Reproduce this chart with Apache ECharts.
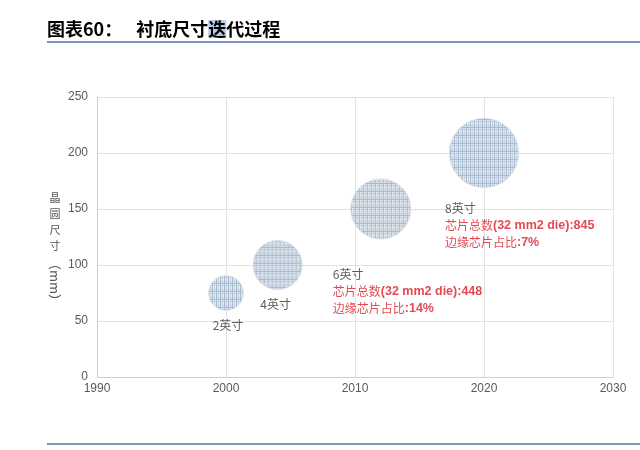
<!DOCTYPE html>
<html>
<head>
<meta charset="utf-8">
<script src="https://cdn.jsdelivr.net/npm/echarts@6/dist/echarts.min.js"></script>
<style>
  html, body { margin: 0; padding: 0; background: #fff; }
  #chart { width: 640px; height: 450px; }
</style>
</head>
<body>
<div id="chart"></div>
<script>
// wafer generations
const years = [2000, 2004, 2012, 2020]
const waferMm = [75, 100, 150, 200]
const waferInch = [2, 4, 6, 8]
const sizeNames = ['2英寸', '4英寸', '6英寸', '8英寸']
const dieTotals = [null, null, 448, 845]
const edgeShare = [null, null, '14%', '7%']

const xTicks = [1990, 2000, 2010, 2020, 2030]
const yTicks = [0, 50, 100, 150, 200, 250]

const cjk = '"Noto Sans CJK SC", sans-serif'
const latin = '"Liberation Sans", Arial, sans-serif'

const bubbleSize = inch => 24.5 * Math.sqrt(inch)

// grid-like texture of the wafer bubbles
const patternCanvas = (() => {
  const c = document.createElement('canvas')
  c.width = 8
  c.height = 8
  const g = c.getContext('2d')
  g.fillStyle = '#e2e9f1'
  g.fillRect(0, 0, 8, 8)
  g.fillStyle = '#bccadb'
  g.fillRect(0, 0, 8, 1)
  g.fillRect(0, 4, 8, 1)
  g.fillRect(0, 0, 1, 8)
  g.fillRect(4, 0, 1, 8)
  g.fillStyle = '#93a9c2'
  g.fillRect(2, 0, 1, 8)
  g.fillRect(6, 0, 1, 8)
  g.fillRect(0, 6, 8, 1)
  return c
})()

// symbol paths are unit shapes scaled by size/2, so undo that on the pattern
const patternFor = size => ({
  image: patternCanvas,
  repeat: 'repeat',
  scaleX: 2 / size,
  scaleY: 2 / size
})

// label placement relative to bubble centre
const labelOffset = i => {
  if (i === 0) return { offset: [2, 24], align: 'center' }
  if (i === 1) return { offset: [-2, 31], align: 'center' }
  if (i === 2) return { offset: [-48, 57], align: 'left' }
  return { offset: [-39, 47], align: 'left' }
}

const points = years.map((y, i) => {
  const lay = labelOffset(i)
  return {
    value: [y, waferMm[i], waferInch[i]],
    itemStyle: { color: patternFor(bubbleSize(waferInch[i])) },
    label: {
      show: true,
      position: 'inside',
      offset: lay.offset,
      align: lay.align,
      verticalAlign: 'top',
      formatter: () => {
        let s = '{n|' + sizeNames[i] + '}'
        if (dieTotals[i] != null) {
          s += '\n{rc|芯片总数}{rl|(32 mm2 die):' + dieTotals[i] + '}'
          s += '\n{rc|边缘芯片占比}{rl|:' + edgeShare[i] + '}'
        }
        return s
      },
      rich: {
        n: { fontFamily: cjk, fontSize: 12, color: '#333', lineHeight: 17 },
        rc: { fontFamily: cjk, fontSize: 12, color: '#dc1c26', lineHeight: 17 },
        rl: { fontFamily: latin, fontSize: 12.5, fontWeight: 'bold', color: '#dc1c26', lineHeight: 17 }
      }
    }
  }
})

const chart = echarts.init(document.getElementById('chart'))

chart.setOption({
  animation: false,
  backgroundColor: '#fff',
  grid: { left: 97, right: 27, top: 97, bottom: 73 },
  xAxis: {
    type: 'value',
    min: xTicks[0],
    max: xTicks[xTicks.length - 1],
    interval: 10,
    axisLine: { show: true, lineStyle: { color: '#d0d0d0' } },
    axisTick: { show: false },
    axisLabel: { color: '#595959', fontFamily: latin, fontSize: 12, margin: 6, formatter: v => String(v) },
    splitLine: { show: true, lineStyle: { color: '#e3e3e3' } }
  },
  yAxis: {
    type: 'value',
    min: yTicks[0],
    max: yTicks[yTicks.length - 1],
    interval: 50,
    axisLine: { show: true, lineStyle: { color: '#d0d0d0' } },
    axisTick: { show: false },
    axisLabel: { color: '#595959', fontFamily: latin, fontSize: 12, margin: 9 },
    splitLine: { show: true, lineStyle: { color: '#e3e3e3' } }
  },
  series: [{
    type: 'scatter',
    data: points,
    symbolSize: v => bubbleSize(v[2]),
    itemStyle: {
      borderColor: '#d3dbe4',
      borderWidth: 1
    }
  }],
  graphic: [
    {
      type: 'text',
      left: 47,
      top: 20,
      style: {
        text: '{a|图表60：}{gap|}{a|衬底尺寸}{h|迭}{a|代过程}',
        rich: {
          a: { fontFamily: cjk, fontSize: 18, fontWeight: 'bold', color: '#111' },
          h: { fontFamily: cjk, fontSize: 18, fontWeight: 'bold', color: '#111', backgroundColor: '#b9cde4' },
          gap: { width: 14 }
        }
      }
    },
    {
      type: 'line',
      shape: { x1: 47, y1: 42, x2: 640, y2: 42 },
      style: { stroke: '#4f72a6', lineWidth: 1.5 }
    },
    {
      type: 'line',
      shape: { x1: 47, y1: 444, x2: 640, y2: 444 },
      style: { stroke: '#4f72a6', lineWidth: 1.5 }
    },
    {
      type: 'text',
      x: 55,
      y: 190,
      style: {
        text: '晶\n圆\n尺\n寸',
        fontFamily: cjk,
        fontSize: 11,
        lineHeight: 16,
        fill: '#595959',
        align: 'center'
      }
    },
    {
      type: 'text',
      x: 55,
      y: 282,
      rotation: -Math.PI / 2,
      style: {
        text: '（mm）',
        fontFamily: cjk,
        fontSize: 13,
        fill: '#595959',
        align: 'center',
        verticalAlign: 'middle'
      }
    }
  ]
})
</script>
</body>
</html>
